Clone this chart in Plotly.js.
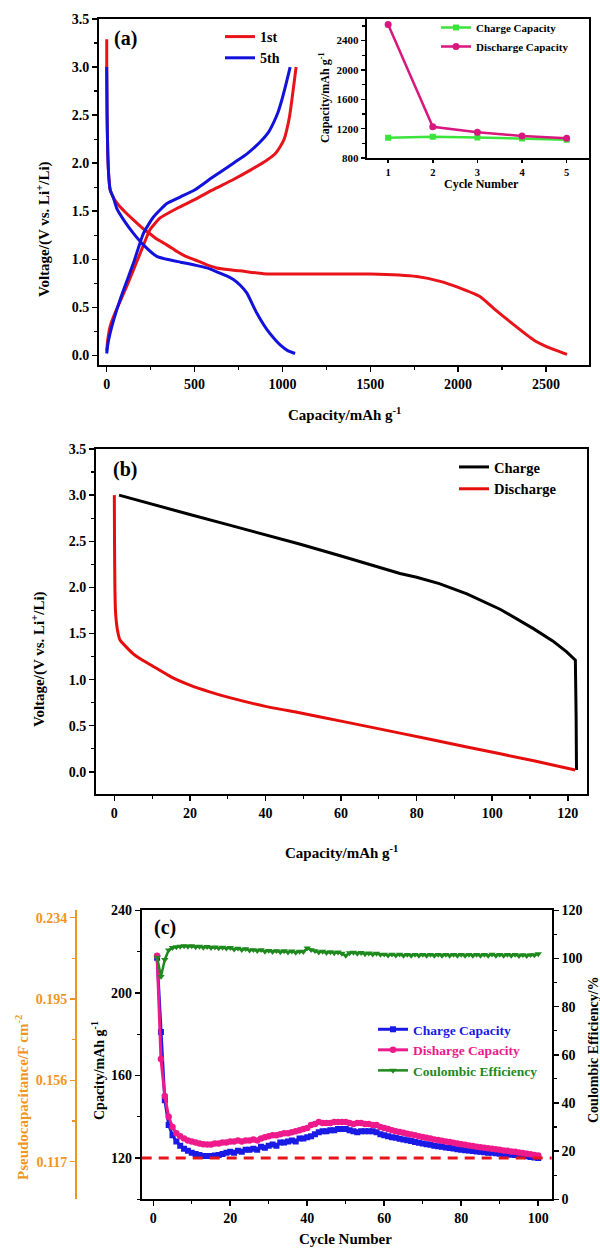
<!DOCTYPE html>
<html>
<head>
<meta charset="utf-8">
<script src="https://cdn.plot.ly/plotly-3.0.1.min.js"></script>
<style>html,body{margin:0;padding:0;background:#fff;}#chart{width:600px;height:1249px;}</style>
</head>
<body>
<div id="chart"></div>
<script>
// ---------- Panel (a): 1st and 5th cycle voltage profiles ----------
const a1DisCap = [0, 0, 2, 6, 12, 20, 38, 60, 100, 152, 200, 250, 285, 342, 400, 450, 500, 560, 626, 700, 759, 892, 1100, 1500, 1765, 1898, 1997, 2126, 2202, 2316, 2430, 2500, 2620];
const a1DisV   = [3.29, 3.0, 2.5, 2.1, 1.85, 1.72, 1.64, 1.58, 1.50, 1.41, 1.33, 1.26, 1.21, 1.15, 1.08, 1.03, 0.995, 0.95, 0.91, 0.89, 0.88, 0.85, 0.846, 0.846, 0.82, 0.77, 0.71, 0.61, 0.49, 0.32, 0.16, 0.094, 0.01];
const a1ChCap  = [0, 5, 19, 47, 114, 190, 247, 304, 400, 500, 600, 721, 820, 911, 960, 987, 1010, 1025, 1040, 1054, 1078];
const a1ChV    = [0.05, 0.15, 0.30, 0.44, 0.72, 1.06, 1.31, 1.43, 1.53, 1.62, 1.72, 1.83, 1.93, 2.03, 2.10, 2.17, 2.25, 2.35, 2.48, 2.66, 3.0];
const a5DisCap = [0, 2, 6, 12, 20, 38, 57, 100, 152, 209, 285, 342, 420, 500, 570, 626, 680, 721, 760, 797, 854, 911, 960, 987, 1030, 1072];
const a5DisV   = [3.0, 2.5, 2.1, 1.85, 1.72, 1.64, 1.53, 1.40, 1.27, 1.15, 1.03, 1.00, 0.97, 0.94, 0.91, 0.87, 0.83, 0.79, 0.73, 0.65, 0.44, 0.27, 0.16, 0.11, 0.05, 0.02];
const a5ChCap  = [0, 5, 19, 76, 152, 209, 266, 342, 420, 500, 600, 721, 800, 873, 920, 949, 975, 997, 1020, 1044];
const a5ChV    = [0.02, 0.10, 0.23, 0.58, 0.96, 1.27, 1.44, 1.58, 1.65, 1.72, 1.85, 2.00, 2.10, 2.22, 2.32, 2.42, 2.53, 2.66, 2.82, 3.0];

// ---------- Inset of (a): first five cycles ----------
const insetCycles = [1, 2, 3, 4, 5];
const insetCharge = [1075, 1090, 1080, 1065, 1050];
const insetDischarge = [2620, 1225, 1150, 1100, 1070];

// ---------- Panel (b): galvanostatic profile ----------
const bChCap = [1.25, 10, 20, 30, 40, 49, 60, 70, 75.6, 80, 86, 93.3, 102.2, 111, 116, 119.7, 122, 122.2, 122.3];
const bChV   = [3.0, 2.9, 2.79, 2.68, 2.57, 2.47, 2.34, 2.22, 2.15, 2.11, 2.04, 1.93, 1.76, 1.55, 1.42, 1.30, 1.21, 0.60, 0.02];
const bDisCap = [0, 0.05, 0.15, 0.3, 0.6, 1, 1.5, 3, 5, 7.5, 10, 15, 20, 25, 30, 40, 49, 60, 75.6, 93.3, 111, 122];
const bDisV   = [3.0, 2.5, 2.0, 1.75, 1.6, 1.5, 1.43, 1.36, 1.28, 1.21, 1.15, 1.03, 0.94, 0.87, 0.81, 0.71, 0.64, 0.55, 0.42, 0.27, 0.12, 0.02];

// ---------- Panel (c): cycling over 100 cycles ----------
const cycles = Array.from({length: 100}, (_, i) => i + 1);
const cCharge = [217, 181, 148, 136, 131, 128, 126, 124.5, 123.5, 122.5,
  122, 121.5, 121, 121, 121, 121.2, 121.5, 122, 122.5, 123,
  122.5, 123.5, 123, 124, 124, 124.5, 124, 125.5, 125, 126,
  126.5, 126, 127.5, 127.5, 128, 128.5, 128, 129.5, 129.5, 130,
  130.5, 131.5, 132.5, 133, 133, 133.5, 133.5, 134, 134, 134,
  133.5, 133, 132.5, 133, 133, 133, 133, 132.5, 131.5, 131,
  130.5, 130, 129.8, 129.3, 129, 128.6, 128.2, 127.8, 127.4, 127,
  126.7, 126.4, 126, 125.7, 125.4, 125.1, 124.9, 124.6, 124.3, 124,
  123.8, 123.6, 123.4, 123.2, 123, 122.8, 122.6, 122.5, 122.3, 122.1,
  122, 121.8, 121.6, 121.4, 121.2, 121, 120.8, 120.5, 120.2, 120];
const cDischarge = [218, 168, 150, 140, 135, 132, 130.5, 129.5, 128.5, 128,
  127.5, 127, 126.7, 126.5, 126.5, 127, 127, 127.5, 127.5, 128,
  128, 128.5, 128, 128.5, 128.5, 129, 128.5, 129.5, 130, 130.5,
  131, 131, 131.5, 132, 132, 132.5, 133, 133.5, 134, 134.5,
  136, 136.5, 137.5, 137, 137, 137, 137.5, 137.5, 137.5, 137.5,
  137, 136.5, 137, 137, 136.5, 136.5, 136, 136, 135, 134.5,
  134, 133.5, 133, 132.6, 132.2, 131.8, 131.4, 131, 130.6, 130.2,
  129.8, 129.4, 129, 128.7, 128.4, 128, 127.7, 127.4, 127, 126.7,
  126.4, 126.1, 125.8, 125.5, 125.2, 125, 124.7, 124.5, 124.2, 124,
  123.7, 123.5, 123.2, 123, 122.7, 122.4, 122.1, 121.8, 121.5, 121.2];
const cEfficiency = [100.5, 92.5, 99.5, 103.5, 104.5, 104.8, 105, 105.2, 105, 105.2,
  104.8, 105, 104.6, 104.9, 104.5, 104.7, 104.3, 104.6, 104.2, 104.5,
  103.8, 104.2, 103.6, 104, 103.4, 103.6, 103.2, 103.6, 102.9, 103.3,
  102.8, 103.2, 102.7, 103.1, 102.6, 103, 102.5, 102.9, 102.8, 104.3,
  103.6, 103.2, 102.6, 102.9, 102.4, 102.7, 102.3, 102.6, 102.1, 101.2,
  102.3, 102.5, 102.1, 102.4, 101.9, 102.2, 101.8, 102.1, 101.6, 101.7,
  101.3, 101.7, 101.3, 101.7, 101.2, 101.6, 101.2, 101.6, 101.2, 101.6,
  101.2, 101.6, 101.2, 101.6, 101.2, 101.6, 101.2, 101.6, 101.2, 101.6,
  101.2, 101.6, 101.2, 101.6, 101.2, 101.6, 101.2, 101.7, 101.2, 101.6,
  101.2, 101.6, 101.2, 101.6, 101.1, 101.5, 101.1, 101.5, 101.4, 101.9];
const cReferenceCapacity = 120;

// ---------- Text ----------
const labelsA = {ser1: '1st', ser5: '5th', x: 'Capacity/mAh g<sup>-1</sup>', y: 'Voltage/(V vs. Li<sup>+</sup>/Li)', panel: '(a)'};
const labelsInset = {ch: 'Charge Capacity', dis: 'Discharge Capacity', x: 'Cycle Number', y: 'Capacity/mAh g<sup>-1</sup>'};
const labelsB = {ch: 'Charge', dis: 'Discharge', x: 'Capacity/mAh g<sup>-1</sup>', y: 'Voltage/(V vs. Li<sup>+</sup>/Li)', panel: '(b)'};
const labelsC = {ch: 'Charge Capacity', dis: 'Disharge Capacity', ce: 'Coulombic Efficiency', x: 'Cycle Number',
  y: 'Cpacity/mAh g<sup>-1</sup>', y2: 'Coulombic Efficiency/%', y3: 'Pseudocapacitance/F cm<sup>-2</sup>', panel: '(c)'};

// ---------- Style ----------
const W = 600, H = 1249;
const px = v => v / W;
const py = v => 1 - v / H;
const RED = '#e8141a', BLUE = '#1212dc', BLACK = '#000000';
const CBLUE = '#1a1ae6', CPINK = '#ee1a8c', CGREEN = '#1e8a1e', ORANGE = '#f0961e';
const FONT = 'Liberation Serif, Times New Roman, DejaVu Serif, serif';

const traces = [
  {x: a1DisCap, y: a1DisV, xaxis: 'x', yaxis: 'y', mode: 'lines', line: {color: RED, width: 3, shape: 'spline', smoothing: 0.5}, name: labelsA.ser1, legend: 'legend', legendgroup: 'a1'},
  {x: a1ChCap, y: a1ChV, xaxis: 'x', yaxis: 'y', mode: 'lines', line: {color: RED, width: 3, shape: 'spline', smoothing: 0.5}, name: labelsA.ser1, showlegend: false, legendgroup: 'a1'},
  {x: a5DisCap, y: a5DisV, xaxis: 'x', yaxis: 'y', mode: 'lines', line: {color: BLUE, width: 3, shape: 'spline', smoothing: 0.5}, name: labelsA.ser5, legend: 'legend', legendgroup: 'a5'},
  {x: a5ChCap, y: a5ChV, xaxis: 'x', yaxis: 'y', mode: 'lines', line: {color: BLUE, width: 3, shape: 'spline', smoothing: 0.5}, name: labelsA.ser5, showlegend: false, legendgroup: 'a5'},

  {x: insetCycles, y: insetCharge, xaxis: 'x2', yaxis: 'y2', mode: 'lines+markers', line: {color: '#3ae43a', width: 2.5}, marker: {symbol: 'square', size: 6, color: '#3ae43a'}, name: labelsInset.ch, legend: 'legend2'},
  {x: insetCycles, y: insetDischarge, xaxis: 'x2', yaxis: 'y2', mode: 'lines+markers', line: {color: '#d8177f', width: 2.5}, marker: {symbol: 'circle', size: 7, color: '#d8177f'}, name: labelsInset.dis, legend: 'legend2'},

  {x: bChCap, y: bChV, xaxis: 'x3', yaxis: 'y3', mode: 'lines', line: {color: BLACK, width: 3}, name: labelsB.ch, legend: 'legend3'},
  {x: bDisCap, y: bDisV, xaxis: 'x3', yaxis: 'y3', mode: 'lines', line: {color: '#e60d0d', width: 3, shape: 'spline', smoothing: 0.4}, name: labelsB.dis, legend: 'legend3'},

  {x: cycles, y: cCharge, xaxis: 'x4', yaxis: 'y4', mode: 'lines+markers', line: {color: CBLUE, width: 3}, marker: {symbol: 'square', size: 6, color: CBLUE}, name: '<span style="color:' + CBLUE + '">' + labelsC.ch + '</span>', legend: 'legend4'},
  {x: cycles, y: cDischarge, xaxis: 'x4', yaxis: 'y4', mode: 'lines+markers', line: {color: CPINK, width: 3}, marker: {symbol: 'circle', size: 6.5, color: CPINK}, name: '<span style="color:' + CPINK + '">' + labelsC.dis + '</span>', legend: 'legend4'},
  {x: cycles, y: cEfficiency, xaxis: 'x4', yaxis: 'y5', mode: 'lines+markers', line: {color: CGREEN, width: 2.5}, marker: {symbol: 'triangle-down', size: 6.5, color: CGREEN}, name: '<span style="color:' + CGREEN + '">' + labelsC.ce + '</span>', legend: 'legend4'},
  // invisible trace so the pseudocapacitance axis is drawn
  {x: [cycles[0]], y: [0.117], xaxis: 'x4', yaxis: 'y6', mode: 'markers', marker: {opacity: 0}, showlegend: false, hoverinfo: 'skip'}
];

const baseAxis = {
  showline: true, linecolor: '#000', linewidth: 2, ticks: 'outside', ticklen: 5, tickwidth: 1.5, tickcolor: '#000',
  showgrid: false, zeroline: false, mirror: true, automargin: false, fixedrange: true,
  tickfont: {family: FONT, size: 14, color: '#000', weight: 'bold'}
};
const ax = o => Object.assign({}, baseAxis, o);
const minor = (d, len) => ({ticks: 'outside', ticklen: len || 3, tickwidth: 1.2, tickcolor: '#000', dtick: d, showgrid: false});

const ann = (text, x, y, size, opts) => Object.assign({
  text: text, xref: 'paper', yref: 'paper', x: px(x), y: py(y), xanchor: 'center', yanchor: 'middle', showarrow: false,
  font: {family: FONT, size: size, color: '#000', weight: 'bold'}
}, opts || {});

const legendBase = (x, y, size) => ({
  x: px(x), y: py(y), xanchor: 'left', yanchor: 'top', bgcolor: 'rgba(0,0,0,0)', borderwidth: 0,
  font: {family: FONT, size: size, color: '#000', weight: 'bold'}, tracegroupgap: 0, itemwidth: 30
});

const layout = {
  width: W, height: H, margin: {l: 0, r: 0, t: 0, b: 0}, paper_bgcolor: '#fff', plot_bgcolor: '#fff',
  font: {family: FONT, size: 14, color: '#000', weight: 'bold'},
  // (a)
  xaxis: ax({domain: [px(99), px(589)], anchor: 'y', range: [-44, 2745], dtick: 500, tick0: 0, minor: minor(250)}),
  yaxis: ax({domain: [py(365), py(19)], anchor: 'x', range: [-0.1, 3.5], dtick: 0.5, tick0: 0, tickformat: '.1f', minor: minor(0.25)}),
  // inset
  xaxis2: ax({domain: [px(366.7), px(589)], anchor: 'y2', range: [0.52, 5.5], dtick: 1, tick0: 1, ticklen: 3,
    tickfont: {family: FONT, size: 10.5, color: '#000', weight: 'bold'}}),
  yaxis2: ax({domain: [py(158), py(19)], anchor: 'x2', range: [800, 2695], dtick: 400, tick0: 800, ticklen: 4, minor: minor(200, 2.5),
    tickfont: {family: FONT, size: 11, color: '#000', weight: 'bold'}}),
  // (b)
  xaxis3: ax({domain: [px(96), px(586.7)], anchor: 'y3', range: [-4.85, 125], dtick: 20, tick0: 0, minor: minor(10)}),
  yaxis3: ax({domain: [py(794), py(449)], anchor: 'x3', range: [-0.24, 3.5], dtick: 0.5, tick0: 0, tickformat: '.1f', minor: minor(0.25)}),
  // (c)
  xaxis4: ax({domain: [px(141.7), px(551.7)], anchor: 'y4', range: [-3, 103.5], dtick: 20, tick0: 0, minor: minor(10)}),
  yaxis4: ax({domain: [py(1199.3), py(910.3)], anchor: 'x4', range: [100, 240], dtick: 40, tick0: 120, mirror: false, minor: minor(20)}),
  yaxis5: ax({overlaying: 'y4', side: 'right', anchor: 'x4', range: [0, 120], dtick: 20, tick0: 0, mirror: false, minor: minor(10)}),
  yaxis6: ax({overlaying: 'y4', side: 'left', anchor: 'free', position: px(76), range: [0.099, 0.2375], tick0: 0.117, dtick: 0.039,
    tickformat: '.3f', mirror: false, linecolor: ORANGE, tickcolor: ORANGE, minor: {ticks: 'outside', ticklen: 3, tickwidth: 1.2, tickcolor: ORANGE, dtick: 0.0195},
    tickfont: {family: FONT, size: 14, color: ORANGE, weight: 'bold'}}),

  legend: legendBase(220, 21, 14),
  legend2: legendBase(436, 13, 11),
  legend3: legendBase(454, 451, 14.5),
  legend4: legendBase(373, 1014, 13.5),

  shapes: [
    {type: 'line', xref: 'x4 domain', yref: 'y4', x0: 0, x1: 1, y0: cReferenceCapacity, y1: cReferenceCapacity,
      line: {color: '#e8141a', width: 3, dash: '10px,7px'}}
  ],
  annotations: [
    ann(labelsA.panel, 125, 38, 20),
    ann(labelsA.y, 43, 229, 15, {textangle: -90}),
    ann(labelsA.x, 344, 414, 15),
    ann(labelsInset.y, 324, 98, 12, {textangle: -90}),
    ann(labelsInset.x, 481, 184, 12),
    ann(labelsB.panel, 125, 469, 20),
    ann(labelsB.y, 38, 659, 15, {textangle: -90}),
    ann(labelsB.x, 341, 852, 15),
    ann(labelsC.panel, 165, 927, 20),
    ann(labelsC.y, 98, 1071, 14, {textangle: -90}),
    ann(labelsC.y2, 593, 1050, 14, {textangle: -90}),
    ann(labelsC.y3, 22, 1098, 15, {textangle: -90, font: {family: FONT, size: 15, color: ORANGE, weight: 'bold'}}),
    ann(labelsC.x, 345, 1239, 15)
  ]
};

Plotly.newPlot('chart', traces, layout, {staticPlot: true, displayModeBar: false});
</script>
</body>
</html>
